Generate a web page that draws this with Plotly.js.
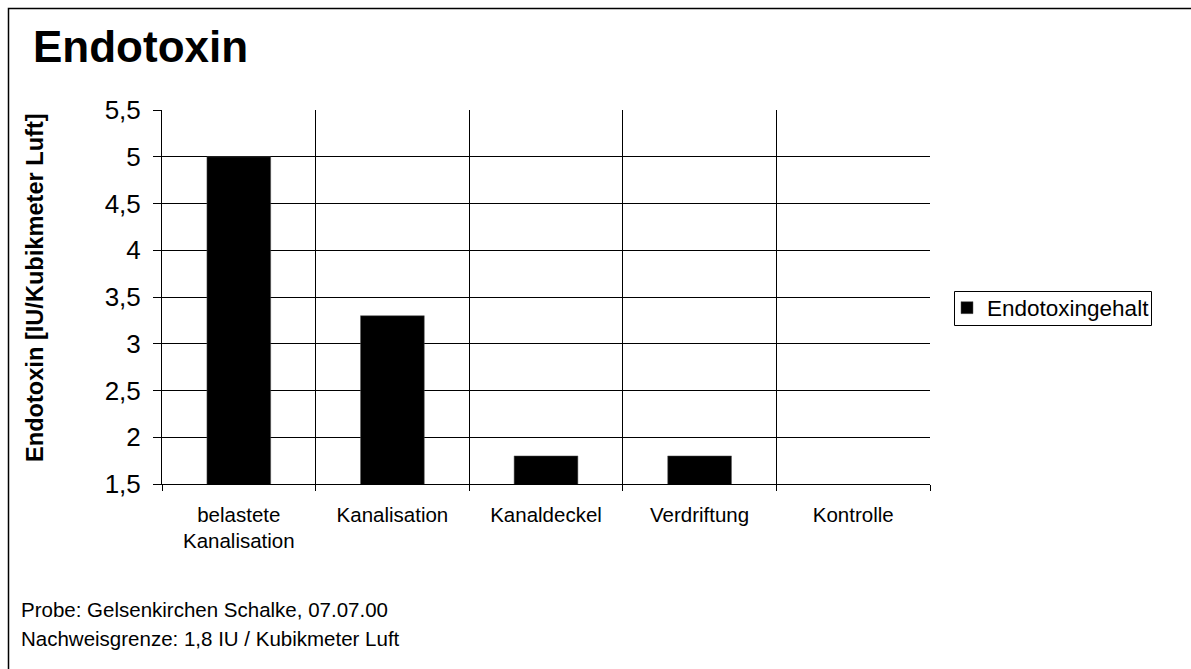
<!DOCTYPE html>
<html>
<head>
<meta charset="utf-8">
<script src="https://cdn.plot.ly/plotly-3.0.1.min.js"></script>
<style>
  html, body { margin: 0; padding: 0; background: #fff; }
  #chart { width: 1191px; height: 669px; }
</style>
</head>
<body>
<div id="chart"></div>
<script>
const categories = ["belastete<br>Kanalisation", "Kanalisation", "Kanaldeckel", "Verdriftung", "Kontrolle"];
const endotoxinValues = [5.0, 3.3, 1.8, 1.8, null];
const seriesName = "Endotoxingehalt";
const yTickValues = [1.5, 2, 2.5, 3, 3.5, 4, 4.5, 5, 5.5];
const chartTitle = "Endotoxin";
const yAxisTitle = "Endotoxin [IU/Kubikmeter Luft]";
const footerLines = ["Probe: Gelsenkirchen Schalke, 07.07.00", "Nachweisgrenze: 1,8 IU / Kubikmeter Luft"];

const FONT = "Arial, 'Liberation Sans', sans-serif";

const trace = {
  type: "bar",
  x: categories,
  y: endotoxinValues,
  name: seriesName,
  marker: { color: "#000000", line: { color: "#555", width: 0.5 } },
  showlegend: true,
  hoverinfo: "x+y"
};

const L = 162, R = 930, T = 110, B = 484;
const W = 1191, H = 669;
const px2x = p => (p - L) / (R - L);
const py2y = p => (B - p) / (B - T);

const layout = {
  width: W, height: H,
  paper_bgcolor: "#ffffff",
  plot_bgcolor: "#ffffff",
  separators: ",.",
  font: { family: FONT, color: "#000" },
  margin: { l: L, r: W - R, t: T, b: H - B, pad: 0 },
  bargap: 0.585,
  title: {
    text: "<b>" + chartTitle + "</b>",
    font: { family: FONT, size: 44, color: "#000" },
    xref: "container", yref: "container",
    x: 33 / W, xanchor: "left",
    y: 1 - 47 / H, yanchor: "middle"
  },
  xaxis: {
    type: "category",
    tickson: "boundaries",
    ticks: "outside", ticklen: 6, tickcolor: "#000", tickwidth: 1,
    showgrid: true, gridcolor: "#000", gridwidth: 1,
    showline: true, linecolor: "#000", linewidth: 1,
    ticklabelstandoff: 12,
    tickfont: { family: FONT, size: 20.5, color: "#000" },
    fixedrange: true
  },
  yaxis: {
    range: [1.5, 5.5],
    tickvals: yTickValues,
    ticks: "outside", ticklen: 8, tickcolor: "#000", tickwidth: 1,
    showgrid: true, gridcolor: "#000", gridwidth: 1,
    showline: true, linecolor: "#000", linewidth: 1,
    zeroline: false,
    ticklabelstandoff: 7,
    tickfont: { family: FONT, size: 26, color: "#000" },
    fixedrange: true
  },
  legend: {
    x: px2x(947), xanchor: "left",
    y: py2y(308), yanchor: "middle",
    bgcolor: "rgba(0,0,0,0)",
    borderwidth: 0,
    font: { family: FONT, size: 22.5, color: "#000" },
    itemwidth: 30
  },
  annotations: [
    {
      text: "<b>" + yAxisTitle + "</b>",
      xref: "paper", yref: "paper",
      x: px2x(35), y: py2y(288),
      xanchor: "center", yanchor: "middle",
      textangle: -90, showarrow: false,
      font: { family: FONT, size: 23.6, color: "#000" }
    },
    {
      text: footerLines[0],
      xref: "paper", yref: "paper",
      x: px2x(19), y: py2y(609),
      xanchor: "left", yanchor: "middle", showarrow: false,
      font: { family: FONT, size: 20.5, color: "#000" }
    },
    {
      text: footerLines[1],
      xref: "paper", yref: "paper",
      x: px2x(19), y: py2y(638),
      xanchor: "left", yanchor: "middle", showarrow: false,
      font: { family: FONT, size: 20.5, color: "#000" }
    }
  ],
  shapes: [
    {
      type: "rect", xref: "paper", yref: "paper",
      x0: px2x(8.5), x1: px2x(1200),
      y0: py2y(700), y1: py2y(8.5),
      line: { color: "#000", width: 1.5 },
      fillcolor: "rgba(0,0,0,0)",
      layer: "below"
    },
    {
      type: "rect", xref: "paper", yref: "paper",
      x0: px2x(954.5), x1: px2x(1151.5),
      y0: py2y(325.5), y1: py2y(291.5),
      line: { color: "#000", width: 1 },
      fillcolor: "rgba(0,0,0,0)",
      layer: "above"
    }
  ]
};

Plotly.newPlot("chart", [trace], layout, { displayModeBar: false, staticPlot: true });
</script>
</body>
</html>
